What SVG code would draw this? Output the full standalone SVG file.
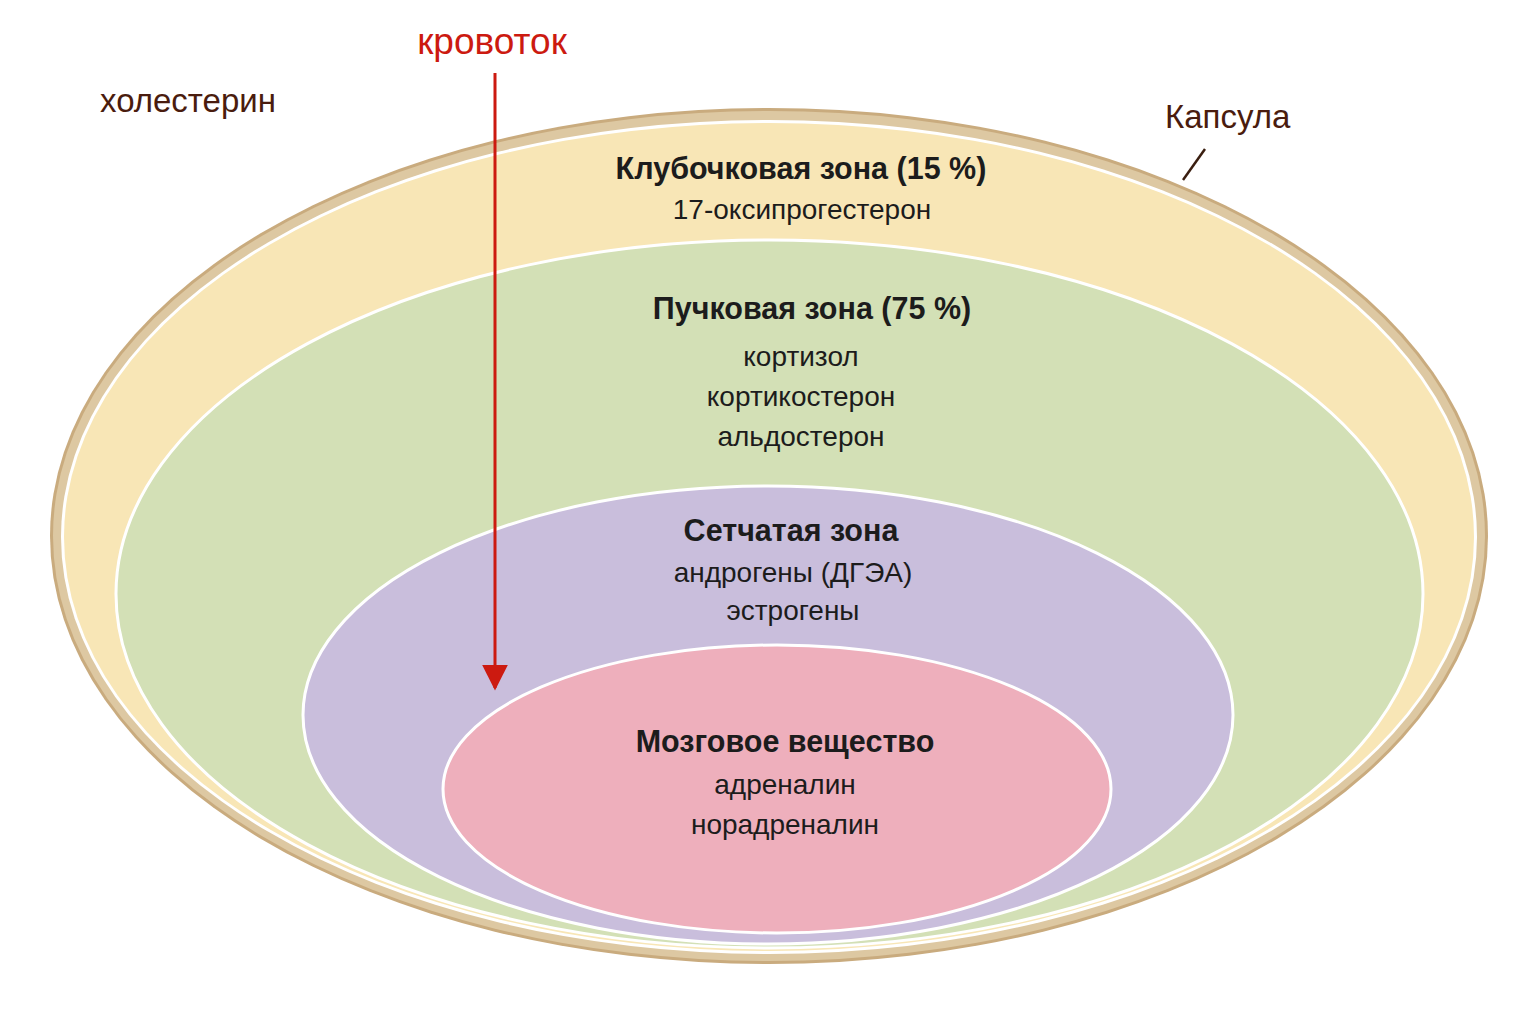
<svg xmlns="http://www.w3.org/2000/svg" width="1536" height="1024" viewBox="0 0 1536 1024">
<style>
.t{font-family:"Liberation Sans",Arial,sans-serif;fill:#1c1c1c;text-anchor:middle;font-size:28px}
.b{font-weight:bold;font-size:30.5px}
.lab{font-family:"Liberation Sans",Arial,sans-serif;fill:#4a1c0e;font-size:33px}
.zone{stroke:#ffffff;stroke-width:3}
</style>
<defs>
<marker id="ah" viewBox="0 0 10 10" refX="9" refY="5" markerWidth="26" markerHeight="26" markerUnits="userSpaceOnUse" orient="auto">
<path d="M0,0 L10,5 L0,10 z" fill="#cc1a10"/>
</marker>
</defs>
<rect width="1536" height="1024" fill="#ffffff"/>
<g id="capsule">
<ellipse cx="769" cy="536" rx="719" ry="428" fill="#c9ab7e"/>
<ellipse cx="769" cy="536" rx="716" ry="425" fill="#ddc8a2"/>
<ellipse cx="769" cy="537" rx="708" ry="417" fill="#ffffff"/>
<ellipse cx="769" cy="537" rx="705" ry="414" fill="#f8e6b6"/>
</g>
<g id="zona-glomerulosa">
<text class="t b" x="801" y="179">Клубочковая зона (15 %)</text>
<text class="t" x="802" y="219">17-оксипрогестерон</text>
</g>
<g id="zona-fasciculata">
<ellipse class="zone" cx="769.5" cy="594" rx="653.5" ry="354" fill="#d3e0b6"/>
<text class="t b" x="812" y="319">Пучковая зона (75 %)</text>
<text class="t" x="801" y="366">кортизол</text>
<text class="t" x="801" y="406">кортикостерон</text>
<text class="t" x="801" y="446">альдостерон</text>
</g>
<g id="zona-reticularis">
<ellipse class="zone" cx="768" cy="715" rx="465" ry="229" fill="#c9bedc"/>
<text class="t b" x="791" y="541">Сетчатая зона</text>
<text class="t" x="793" y="582">андрогены (ДГЭА)</text>
<text class="t" x="793" y="620">эстрогены</text>
</g>
<g id="medulla">
<ellipse class="zone" cx="777" cy="789" rx="334" ry="144" fill="#eeafbc"/>
<text class="t b" x="785" y="752">Мозговое вещество</text>
<text class="t" x="785" y="794">адреналин</text>
<text class="t" x="785" y="834">норадреналин</text>
</g>
<g id="labels">
<text class="lab" x="100" y="112">холестерин</text>
<text class="lab" x="1165" y="128">Капсула</text>
<text x="492" y="54" font-family="Liberation Sans, Arial, sans-serif" font-size="37" fill="#cc1a10" text-anchor="middle">кровоток</text>
</g>
<g id="connectors">
<line x1="1205" y1="149" x2="1183" y2="180" stroke="#3a1e10" stroke-width="2.5"/>
<line x1="495" y1="73" x2="495" y2="688" stroke="#cc1a10" stroke-width="3" marker-end="url(#ah)"/>
</g>
</svg>
